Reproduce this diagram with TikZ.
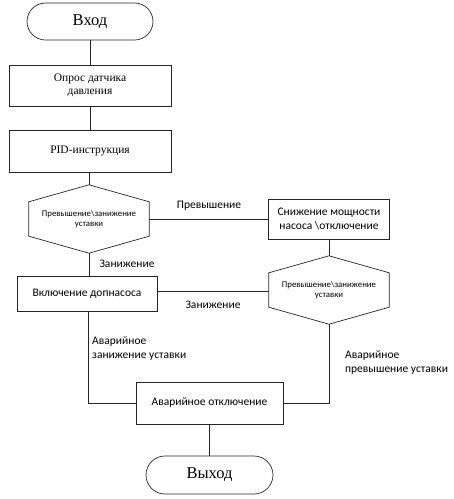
\documentclass[tikz,border=0pt]{standalone}
\usepackage{fontspec}
\setmainfont{Liberation Serif}
\newfontfamily\calfont{Carlito}
\usetikzlibrary{shapes.misc,calc}
\tikzset{
  line/.style={draw=black!85, line width=0.7pt},
  term/.style={rounded rectangle, line, inner sep=0pt, font=\fontsize{16.5}{18}\selectfont},
  sbox/.style={rectangle, line, inner sep=0pt, align=center, font=\fontsize{11.5}{13}\selectfont},
  cbox/.style={rectangle, line, inner sep=0pt, align=center, font=\calfont\fontsize{11.5}{13.5}\selectfont},
  hexnode/.style={rectangle, draw=none, inner sep=0pt, minimum width=120pt, minimum height=68pt, align=center, font=\calfont\fontsize{8.8}{10.5}\selectfont},
  lbl/.style={inner sep=0pt, font=\calfont\fontsize{11.5}{13.5}\selectfont},
}
\newcommand{\hexdraw}[1]{%
  \draw[line] (#1.north) -- ([yshift=-17pt]#1.north east) -- ([yshift=17pt]#1.south east) -- (#1.south) -- ([yshift=17pt]#1.south west) -- ([yshift=-17pt]#1.north west) -- cycle;}
\begin{document}
\begin{tikzpicture}[x=1pt,y=-1pt]
\useasboundingbox (0,0) rectangle (454,499);
\node[term, minimum width=126pt, minimum height=37pt] (vhod) at (90,21.5) {Вход};
\node[sbox, minimum width=162pt, minimum height=41pt] (opros) at (90,85.5) {Опрос датчика\\давления};
\node[sbox, minimum width=162pt, minimum height=42pt] (pid) at (90,151) {PID-инструкция};
\node[hexnode] (h1) at (89,219) {Превышение\textbackslash занижение\\уставки};
\hexdraw{h1}
\node[cbox, minimum width=121pt, minimum height=40pt] (snizh) at (329,219) {Снижение мощности\\насоса \textbackslash отключение};
\node[hexnode] (h2) at (329,290) {Превышение\textbackslash занижение\\уставки};
\hexdraw{h2}
\node[cbox, minimum width=140pt, minimum height=35pt] (vkl) at (87,293.5) {Включение допнасоса};
\node[cbox, minimum width=147pt, minimum height=42pt] (avar) at (209.5,403) {Аварийное отключение};
\node[term, minimum width=127pt, minimum height=38pt] (vyhod) at (209.5,475) {Выход};

\draw[line] (vhod.south) -- (vhod.south |- opros.north);
\draw[line] (opros.south) -- (opros.south |- pid.north);
\draw[line] (pid.south) -- (pid.south -| h1.north) -- (h1.north);
\draw[line] (h1.east) -- (h1.east -| snizh.west);
\draw[line] (snizh.south) -- (h2.north);
\draw[line] (h1.south) -- (h1.south |- vkl.north);
\draw[line] ([yshift=-1pt]h2.west) -- ([yshift=-1pt]h2.west -| vkl.east);
\draw[line] ([xshift=1pt]vkl.south) |- (avar.west);
\draw[line] (avar.east) -| (h2.south);
\draw[line] (avar.south) -- (avar.south |- vyhod.north);

\node[lbl] (l1) at (209,206) {Превышение};
\node[lbl] (l2) at (127,264) {Занижение};
\node[lbl] (l3) at (213,305) {Занижение};
\node[lbl, anchor=north west, align=left] (l4) at (92,337) {Аварийное\\занижение уставки};
\node[lbl, anchor=north west, align=left] (l5) at (345,351) {Аварийное\\превышение уставки};
\end{tikzpicture}
\end{document}
